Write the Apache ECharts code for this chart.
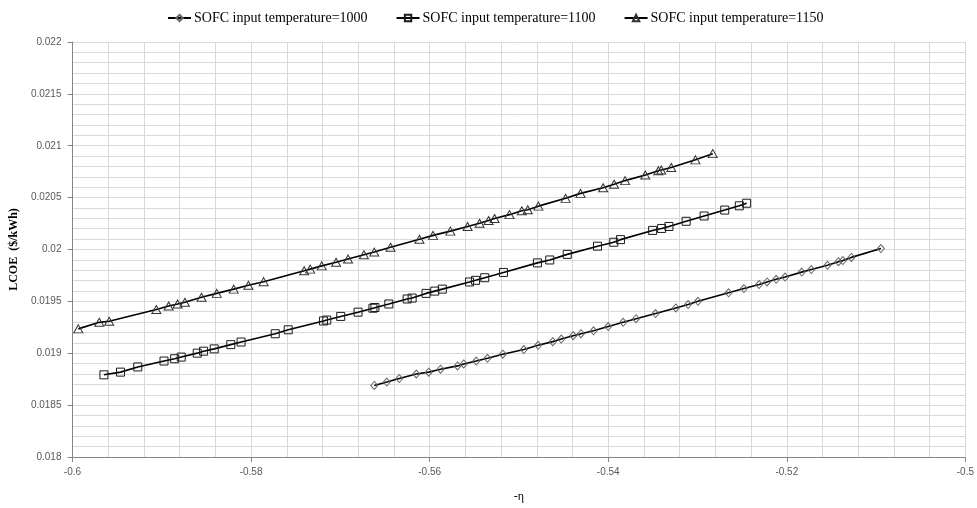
<!DOCTYPE html>
<html>
<head>
<meta charset="utf-8">
<script src="https://cdn.jsdelivr.net/npm/echarts@6/dist/echarts.min.js"></script>
<style>
html,body{margin:0;padding:0;background:#fff;}
#chart{width:977px;height:508px;}
</style>
</head>
<body>
<div id="chart"></div>
<script>
// ---- data ----
const seriesNames = ["SOFC input temperature=1000", "SOFC input temperature=1100", "SOFC input temperature=1150"];

const eta1000 = [-0.5662, -0.5648, -0.5634, -0.5615, -0.5601, -0.55878, -0.55688, -0.55619, -0.55478, -0.55352, -0.55181, -0.54945, -0.54785, -0.54621, -0.54526, -0.54392, -0.54305, -0.54164, -0.54000, -0.53833, -0.53688, -0.5347, -0.53243, -0.53105, -0.52995, -0.52652, -0.5248, -0.5231, -0.52221, -0.52119, -0.52019, -0.51833, -0.51726, -0.51544, -0.51421, -0.51372, -0.51277, -0.50946];
const lcoe1000 = [0.018690, 0.018722, 0.018756, 0.018800, 0.018818, 0.018846, 0.018878, 0.018897, 0.018925, 0.018951, 0.018991, 0.019036, 0.019077, 0.019112, 0.019137, 0.019169, 0.019188, 0.019216, 0.019257, 0.019298, 0.019333, 0.019383, 0.019437, 0.019469, 0.019501, 0.019583, 0.019624, 0.019662, 0.019687, 0.019713, 0.019734, 0.019782, 0.019807, 0.019848, 0.019883, 0.019893, 0.019924, 0.020009];

const eta1100 = [-0.59648, -0.59462, -0.59269, -0.58975, -0.58856, -0.58782, -0.58603, -0.58532, -0.58413, -0.58227, -0.58112, -0.57729, -0.57584, -0.57189, -0.57152, -0.56996, -0.56802, -0.56635, -0.56613, -0.56457, -0.56252, -0.56196, -0.5604, -0.55943, -0.55858, -0.55553, -0.55486, -0.55383, -0.55173, -0.54793, -0.54655, -0.54459, -0.5412, -0.53938, -0.53863, -0.53503, -0.53402, -0.5332, -0.53127, -0.52926, -0.52695, -0.52532, -0.5245];
const lcoe1100 = [0.018792, 0.018818, 0.018868, 0.018925, 0.018947, 0.018963, 0.019001, 0.019020, 0.019042, 0.019083, 0.019108, 0.019188, 0.019226, 0.019311, 0.019320, 0.019355, 0.019396, 0.019434, 0.019441, 0.019475, 0.019523, 0.019532, 0.019577, 0.019599, 0.019618, 0.019687, 0.019703, 0.019728, 0.019779, 0.019871, 0.019899, 0.019953, 0.020032, 0.020070, 0.020095, 0.020184, 0.020203, 0.020222, 0.020272, 0.020323, 0.020380, 0.020421, 0.020446];

const eta1150 = [-0.59935, -0.59700, -0.59589, -0.59061, -0.58923, -0.58823, -0.58741, -0.58555, -0.58384, -0.58194, -0.58030, -0.57859, -0.57405, -0.57338, -0.57208, -0.57048, -0.56914, -0.56736, -0.56620, -0.56438, -0.56114, -0.55962, -0.55768, -0.55575, -0.55441, -0.5534, -0.55273, -0.55106, -0.54968, -0.54901, -0.54782, -0.54477, -0.5431, -0.54057, -0.53934, -0.53811, -0.53585, -0.53439, -0.53406, -0.53294, -0.53023, -0.52829];
const lcoe1150 = [0.019235, 0.019298, 0.019308, 0.019422, 0.019456, 0.019475, 0.019491, 0.019539, 0.019577, 0.019618, 0.019656, 0.019690, 0.019795, 0.019811, 0.019842, 0.019877, 0.019909, 0.019950, 0.019975, 0.020022, 0.020098, 0.020136, 0.020177, 0.020222, 0.020253, 0.020279, 0.020298, 0.020336, 0.020374, 0.020383, 0.020418, 0.020493, 0.020541, 0.020595, 0.020629, 0.020664, 0.020718, 0.020759, 0.020766, 0.020791, 0.020864, 0.020924];

const xTicks = { min: -0.6, max: -0.5, interval: 0.02 };
const yTicks = { min: 0.018, max: 0.022, interval: 0.0005 };
const xAxisName = "-η";
const yAxisName = "LCOE  ($/kWh)";

// ---- build ----
function pairs(xs, ys) { return xs.map((x, i) => [x, ys[i]]); }
function fmt(v) { return String(parseFloat(v.toFixed(6))); }

const symbols = ['diamond', 'rect', 'triangle'];
const symbolSizes = [[7, 8], 8, [9, 8]];
const symbolColors = ['#666', '#1a1a1a', '#333'];
const dataSets = [pairs(eta1000, lcoe1000), pairs(eta1100, lcoe1100), pairs(eta1150, lcoe1150)];

const chart = echarts.init(document.getElementById('chart'), null, { renderer: 'canvas' });
const gridColor = '#d9d9d9';
chart.setOption({
  animation: false,
  backgroundColor: '#fff',
  legend: {
    top: 6,
    left: 162,
    itemGap: 28,
    itemWidth: 23,
    itemHeight: 8,
    textStyle: { fontFamily: 'Liberation Serif', fontSize: 14, color: '#000', padding: [0, 0, 0, -2] },
    data: seriesNames
  },
  grid: { left: 71, right: 10, top: 42, bottom: 44.5, containLabel: false },
  xAxis: {
    type: 'value',
    min: xTicks.min, max: xTicks.max, interval: xTicks.interval,
    name: xAxisName, nameLocation: 'middle', nameGap: 34,
    nameTextStyle: { fontFamily: 'Liberation Serif', fontSize: 12, color: '#000' },
    axisLine: { show: true, onZero: false, lineStyle: { color: '#868686', width: 1 } },
    axisTick: { show: true, length: 5, lineStyle: { color: '#868686' } },
    axisLabel: { fontFamily: 'Liberation Sans', fontSize: 10, color: '#595959', margin: 10, formatter: fmt },
    splitLine: { show: true, lineStyle: { color: gridColor, width: 1 } },
    minorTick: { show: false, splitNumber: 5 },
    minorSplitLine: { show: true, lineStyle: { color: gridColor, width: 1 } }
  },
  yAxis: {
    type: 'value',
    min: yTicks.min, max: yTicks.max, interval: yTicks.interval,
    name: yAxisName, nameLocation: 'middle', nameGap: 35, nameRotate: 90,
    nameTextStyle: { fontFamily: 'Liberation Serif', fontSize: 12, fontWeight: 'bold', color: '#000' },
    axisLine: { show: true, lineStyle: { color: '#868686', width: 1 } },
    axisTick: { show: true, length: 5, lineStyle: { color: '#868686' } },
    axisLabel: { fontFamily: 'Liberation Sans', fontSize: 10, color: '#595959', margin: 11, formatter: fmt },
    splitLine: { show: true, lineStyle: { color: gridColor, width: 1 } },
    minorTick: { show: false, splitNumber: 5 },
    minorSplitLine: { show: true, lineStyle: { color: gridColor, width: 1 } }
  },
  series: seriesNames.map((name, i) => ({
    name: name,
    type: 'line',
    data: dataSets[i],
    symbol: symbols[i],
    symbolSize: symbolSizes[i],
    showAllSymbol: true,
    lineStyle: { color: '#000', width: 1.6 },
    itemStyle: { color: 'rgba(255,255,255,0)', borderColor: symbolColors[i], borderWidth: 1 },
    emphasis: { disabled: true }
  }))
});
</script>
</body>
</html>
